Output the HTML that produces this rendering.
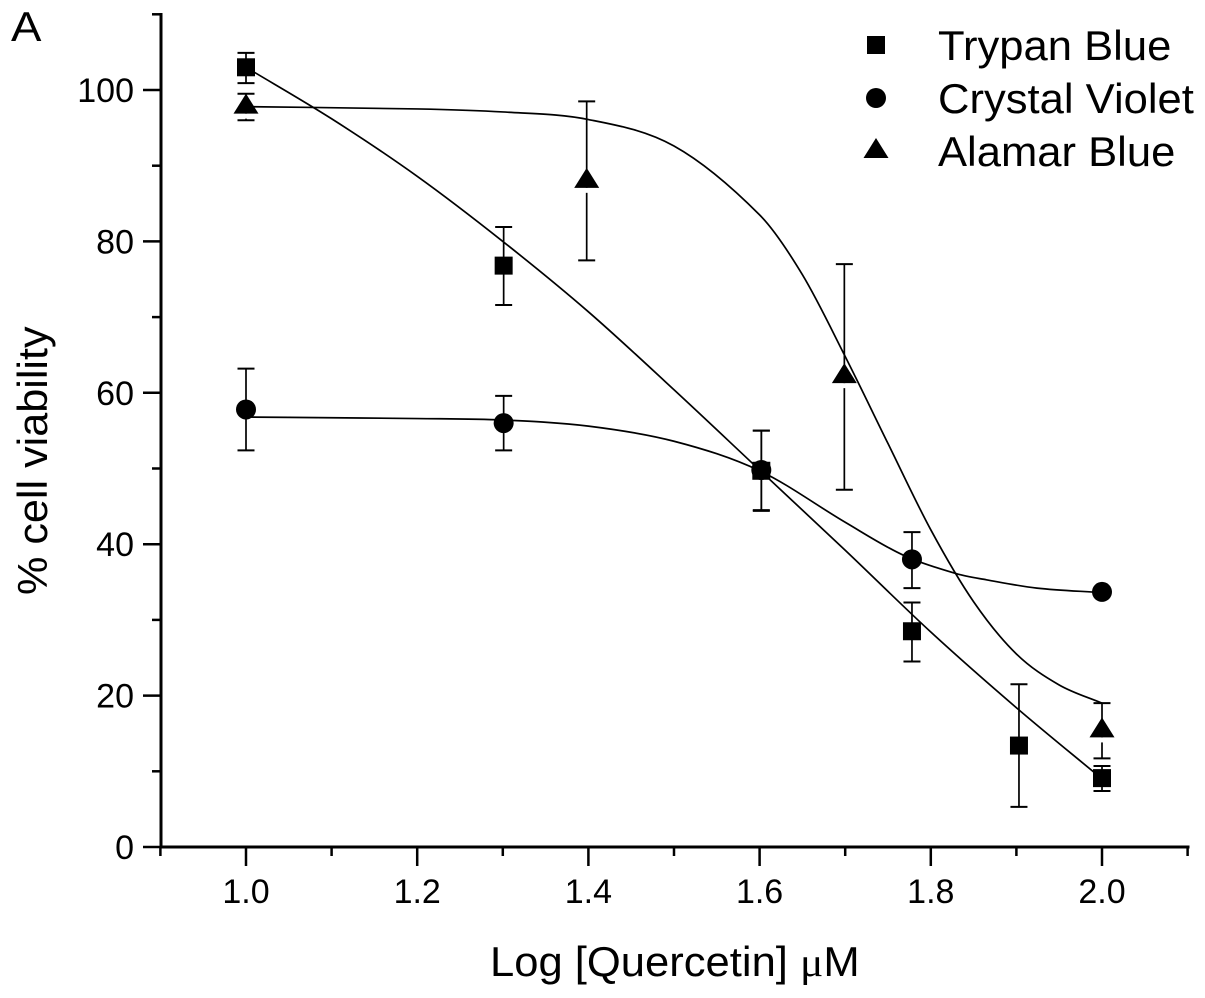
<!DOCTYPE html>
<html lang="en">
<head>
<meta charset="utf-8">
<title>Cell viability vs Log [Quercetin]</title>
<style>
html,body{margin:0;padding:0;background:#fff;width:1205px;height:998px;overflow:hidden}
svg{display:block;font-family:"Liberation Sans",Arial,sans-serif;fill:#000}
</style>
</head>
<body>
<svg id="chart" xmlns="http://www.w3.org/2000/svg" width="1205" height="998" viewBox="0 0 1205 998">
<rect width="1205" height="998" fill="#fff"/>
<text transform="translate(11,41) scale(1.1,1)" font-size="41.5">A</text>
<text transform="translate(490,976) scale(1.05,1)" font-size="41.5">Log [Quercetin] <tspan font-family="'Liberation Serif',serif">μ</tspan>M</text>
<text transform="translate(47,595) rotate(-90) scale(1.04,1)" font-size="41.5">% cell viability</text>
<g id="axes"></g>
<g id="curves"></g>
<g id="errors"></g>
<g id="markers"></g>
<g id="legend"></g>
</svg>
<script>
// Axis ticks
const xTicks = [0.9,1.0,1.1,1.2,1.3,1.4,1.5,1.6,1.7,1.8,1.9,2.0,2.1];
const xTickLabels = ['', '1.0', '', '1.2', '', '1.4', '', '1.6', '', '1.8', '', '2.0', ''];
const yTicks = [0,10,20,30,40,50,60,70,80,90,100,110];
const yTickLabels = ['0', '', '20', '', '40', '', '60', '', '80', '', '100', ''];

// Measured points
const trypanX = [1.0,1.301,1.602,1.778,1.903,2.0];
const trypanY = [103,76.8,49.7,28.5,13.4,9.1];
const trypanLow = [100.9,71.6,44.4,24.5,5.3,7.4];
const trypanHigh = [104.9,81.9,55,32.3,21.5,10.7];

const crystalX = [1.0,1.301,1.602,1.778,2.0];
const crystalY = [57.8,56,49.8,38,33.7];
const crystalLow = [52.4,52.4,44.5,34.2,33.2];
const crystalHigh = [63.2,59.6,55,41.6,34.2];

const alamarX = [1.0,1.398,1.699,2.0];
const alamarY = [97.8,88,62.2,15.4];
const alamarLow = [96,77.5,47.2,11.7];
const alamarHigh = [99.5,98.5,77,19];

// Fitted curves
const trypanCurveX = [1.0,1.1,1.2,1.3,1.4,1.5,1.6,1.7,1.8,1.9,2.0];
const trypanCurveY = [103,96.2,88.6,80,70.7,60.4,49.8,39.2,28.4,18.4,9];
const crystalCurveX = [1.0,1.1,1.2,1.3,1.4,1.5,1.6,1.7,1.767,1.83,1.865,1.924,2.0];
const crystalCurveY = [56.8,56.7,56.6,56.4,55.6,53.6,49.7,42.9,38.6,36.1,35.3,34.2,33.6];
const alamarCurveX = [1.0,1.2,1.3,1.4,1.5,1.6,1.65,1.7,1.75,1.8,1.85,1.9,1.95,2.0];
const alamarCurveY = [97.8,97.5,97.1,96.1,92.6,83.5,75.6,64.8,53.3,41.9,32.4,25.5,21.4,19];

// Legend
const legendLabels = ['Trypan Blue','Crystal Violet','Alamar Blue'];
const legendKinds = ['square','circle','triangle'];

const NS = 'http://www.w3.org/2000/svg';
const sx = v => 246 + (v - 1) * 856;
const sy = v => 847 - v * 7.57;

function make(parent, tag, attrs, text) {
  const el = document.createElementNS(NS, tag);
  for (const k in attrs) el.setAttribute(k, attrs[k]);
  if (text !== undefined) el.textContent = text;
  parent.appendChild(el);
  return el;
}
function drawLine(parent, x1, y1, x2, y2, w) {
  return make(parent, 'line', {x1, y1, x2, y2, stroke:'#000', 'stroke-width':w});
}

function drawMarker(parent, kind, cx, cy, name) {
  let el;
  if (kind === 'square') {
    el = make(parent, 'rect', {x:cx-9, y:cy-9, width:18, height:18, fill:'#000'});
  } else if (kind === 'circle') {
    el = make(parent, 'circle', {cx, cy, r:10, fill:'#000'});
  } else {
    const halo = make(parent, 'rect', {x:cx-3, y:cy+7, width:6, height:5, fill:'#fff'});
    
    
    el = make(parent, 'polygon', {points:[cx,cy-13,cx+12.5,cy+7,cx-12.5,cy+7].join(' '), fill:'#000'});
  }
  
  
}

function smoothPath(xs, ys) {
  const p = xs.map((x,i) => [sx(x), sy(ys[i])]);
  const slope = i => {
    const a = p[Math.max(i-1,0)], c = p[Math.min(i+1,p.length-1)];
    return (c[1]-a[1]) / (c[0]-a[0]);
  };
  let d = 'M' + p[0][0] + ' ' + p[0][1];
  for (let i = 0; i < p.length - 1; i++) {
    const b = p[i], c = p[i+1], h = (c[0]-b[0]) / 3;
    d += ' C' + (b[0]+h) + ' ' + (b[1]+slope(i)*h) + ' ' +
         (c[0]-h) + ' ' + (c[1]-slope(i+1)*h) + ' ' + c[0] + ' ' + c[1];
  }
  return d;
}

const axes = document.getElementById('axes');
const xAxis = drawLine(axes, 159.5, 847, 1189.5, 847, 3);


const yAxis = drawLine(axes, 161, 848.5, 161, 13, 3);



xTicks.forEach((t, i) => {
  const major = xTickLabels[i] !== '';
  const tick = drawLine(axes, sx(t), 847, sx(t), major ? 866 : 856, 2.5);
  
  
  if (major) {
    const label = make(axes, 'text', {x:sx(t), y:903, 'font-size':34, 'text-anchor':'middle'}, xTickLabels[i]);
    
    
  }
});
yTicks.forEach((t, i) => {
  const major = yTickLabels[i] !== '';
  const tick = drawLine(axes, 161, sy(t), major ? 143 : 152, sy(t), 2.5);
  
  
  if (major) {
    const label = make(axes, 'text', {x:134, y:sy(t)+12, 'font-size':34, 'text-anchor':'end'}, yTickLabels[i]);
    
    
  }
});

const curves = document.getElementById('curves');
const errors = document.getElementById('errors');
const markers = document.getElementById('markers');

function drawCurve(cx, cy, name) {
  const path = make(curves, 'path', {d:smoothPath(cx, cy), fill:'none', stroke:'#000', 'stroke-width':1.7});
  
  
}
function drawSeries(xs, ys, low, high, kind, name) {
  xs.forEach((x, i) => {
    const px = sx(x);
    const stem = drawLine(errors, px, sy(high[i]), px, sy(low[i]), 1.7);
    
    
    const top = drawLine(errors, px-8.5, sy(high[i]), px+8.5, sy(high[i]), 2);
    
    
    const bottom = drawLine(errors, px-8.5, sy(low[i]), px+8.5, sy(low[i]), 2);
    
    
    drawMarker(markers, kind, px, sy(ys[i]), name + '-point');
  });
}

drawCurve(trypanCurveX, trypanCurveY, 'trypan-blue-curve');
drawCurve(crystalCurveX, crystalCurveY, 'crystal-violet-curve');
drawCurve(alamarCurveX, alamarCurveY, 'alamar-blue-curve');
drawSeries(trypanX, trypanY, trypanLow, trypanHigh, 'square', 'trypan-blue');
drawSeries(crystalX, crystalY, crystalLow, crystalHigh, 'circle', 'crystal-violet');
drawSeries(alamarX, alamarY, alamarLow, alamarHigh, 'triangle', 'alamar-blue');

const legend = document.getElementById('legend');
legendLabels.forEach((label, i) => {
  const rowY = 45 + i * 53;
  const group = make(legend, 'g', {});
  
  
  drawMarker(group, legendKinds[i], 876, rowY, 'legend-marker');
  const text = make(group, 'text', {transform:'translate(938,' + (rowY + 15) + ') scale(1.05,1)', 'font-size':41.5}, label);
  
  
});
</script>
</body>
</html>
